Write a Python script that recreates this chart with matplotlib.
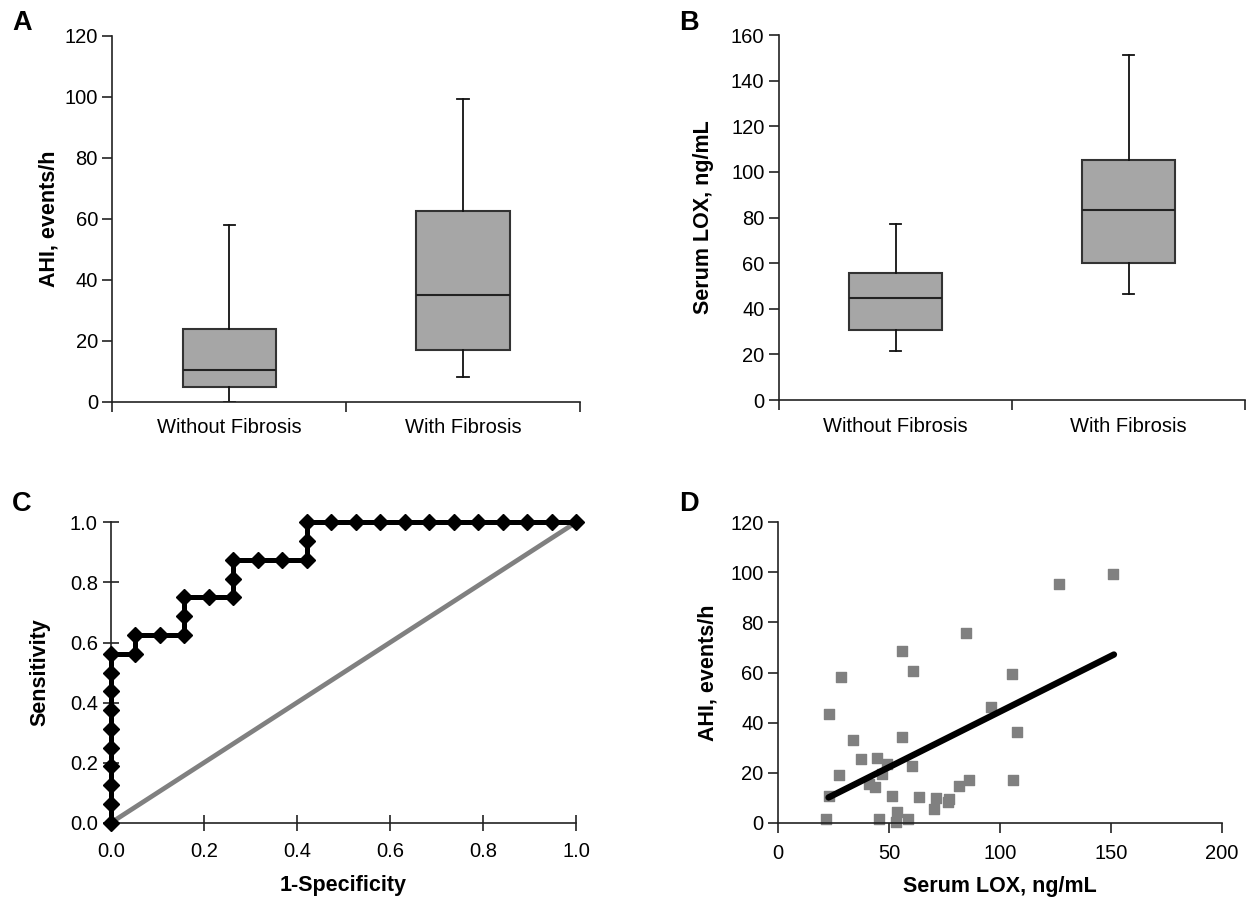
import numpy as np
import matplotlib
matplotlib.use("Agg")
import matplotlib.pyplot as plt

plt.rcParams['font.family'] = ['Liberation Sans', 'DejaVu Sans']

# box plot summaries: whislo, q1, median, q3, whishi
groups = ["Without Fibrosis", "With Fibrosis"]
ahi_stats = [[0.0, 4.7, 10.5, 23.8, 57.9],
             [8.1, 16.8, 34.9, 62.5, 99.1]]
lox_stats = [[21.5, 30.9, 44.8, 55.8, 77.2],
             [46.4, 59.9, 83.1, 105.4, 151.1]]

# ROC curve
roc_fpr = [0.0, 0.0, 0.0, 0.0, 0.0, 0.0, 0.0, 0.0, 0.0, 0.0,
           0.0526, 0.0526, 0.1053, 0.1579, 0.1579, 0.1579, 0.2105, 0.2632, 0.2632, 0.2632,
           0.3158, 0.3684, 0.4211, 0.4211, 0.4211, 0.4737, 0.5263, 0.5789, 0.6316, 0.6842,
           0.7368, 0.7895, 0.8421, 0.8947, 0.9474, 1.0]
roc_tpr = [0.0, 0.0625, 0.125, 0.1875, 0.25, 0.3125, 0.375, 0.4375, 0.5, 0.5625,
           0.5625, 0.625, 0.625, 0.625, 0.6875, 0.75, 0.75, 0.75, 0.8125, 0.875,
           0.875, 0.875, 0.875, 0.9375, 1.0, 1.0, 1.0, 1.0, 1.0, 1.0,
           1.0, 1.0, 1.0, 1.0, 1.0, 1.0]

# scatter: serum LOX vs AHI
lox = [150.9, 126.7, 84.7, 55.6, 61.0, 105.3, 28.2, 95.8, 22.7, 107.8,
       55.6, 33.5, 37.4, 44.6, 49.1, 60.4, 27.2, 46.7, 40.8, 43.5,
       86.2, 105.9, 81.4, 51.1, 63.4, 71.3, 77.0, 76.6, 70.3, 22.7,
       53.5, 21.5, 45.6, 58.3, 52.9]
ahi = [99.3, 95.2, 75.9, 68.8, 60.7, 59.5, 58.2, 46.2, 43.3, 36.1,
       34.4, 33.0, 25.4, 25.8, 23.3, 22.8, 19.0, 19.4, 15.3, 14.2,
       16.9, 17.0, 14.8, 10.8, 10.1, 9.9, 9.6, 8.4, 5.6, 10.7,
       4.4, 1.3, 1.6, 1.6, 0.1]
fit_x = [22.7, 151.4]
fit_y = [10.1, 67.2]

fig = plt.figure(figsize=(12.47, 9.05), dpi=100)
axA = fig.add_axes([0.0902, 0.5561, 0.3749, 0.4046])
axB = fig.add_axes([0.6247, 0.5580, 0.3737, 0.4033])
axC = fig.add_axes([0.0890, 0.0909, 0.3729, 0.3319])
axD = fig.add_axes([0.6241, 0.0909, 0.3556, 0.3319])

tick_fs = 14.5
label_fs = 15.5


def style(ax):
    ax.spines['top'].set_visible(False)
    ax.spines['right'].set_visible(False)
    for s in ['left', 'bottom']:
        ax.spines[s].set_linewidth(1.2)
        ax.spines[s].set_color('#222222')
    ax.tick_params(labelsize=tick_fs, width=1.2, length=7, color='#222222')


def box_panel(ax, stats, ymax, ystep, ylabel, label_x):
    bxp_stats = []
    for name, st in zip(groups, stats):
        bxp_stats.append(dict(label=name, whislo=st[0], q1=st[1], med=st[2],
                              q3=st[3], whishi=st[4], fliers=[]))
    ax.bxp(bxp_stats, positions=[0.5, 1.5], widths=0.4, capwidths=0.05,
           patch_artist=True, showfliers=False,
           boxprops=dict(facecolor='#a6a6a6', edgecolor='#333333', linewidth=1.5),
           medianprops=dict(color='#222222', linewidth=1.5),
           whiskerprops=dict(color='#111111', linewidth=1.3),
           capprops=dict(color='#111111', linewidth=1.3))
    style(ax)
    ax.set_xlim(0, 2)
    ax.set_ylim(0, ymax)
    ax.set_yticks(np.arange(0, ymax + 1, ystep))
    ax.set_xticks([0, 1, 2])
    ax.set_xticklabels([])
    ax.set_xticks([0.5, 1.5], minor=True)
    ax.set_xticklabels(groups, minor=True)
    ax.tick_params(axis='x', which='minor', length=0, labelsize=tick_fs, pad=12)
    ax.set_ylabel(ylabel, fontsize=label_fs, fontweight='bold')
    ax.yaxis.set_label_coords(label_x, 0.5)


box_panel(axA, ahi_stats, 120, 20, "AHI, events/h", -0.114)
box_panel(axB, lox_stats, 160, 20, "Serum LOX, ng/mL", -0.139)

# ROC panel
axC.plot([0, 1], [0, 1], color='#808080', linewidth=3.4, zorder=2, clip_on=False)
axC.plot(roc_fpr, roc_tpr, color='black', linewidth=3.6, marker='D', markersize=8.5,
         zorder=3, clip_on=False)
style(axC)
axC.set_xlim(0, 1)
axC.set_ylim(0, 1)
axC.set_xticks(np.arange(0, 1.01, 0.2))
axC.set_yticks(np.arange(0, 1.01, 0.2))
axC.xaxis.set_major_formatter(matplotlib.ticker.FormatStrFormatter('%.1f'))
axC.yaxis.set_major_formatter(matplotlib.ticker.FormatStrFormatter('%.1f'))
axC.tick_params(direction='inout', length=12)
axC.tick_params(axis='x', pad=8)
axC.set_xlabel("1-Specificity", fontsize=label_fs, fontweight='bold', labelpad=10)
axC.set_ylabel("Sensitivity", fontsize=label_fs, fontweight='bold')
axC.yaxis.set_label_coords(-0.131, 0.5)

# scatter panel
axD.scatter(lox, ahi, marker='s', s=62, color='#808080', zorder=2, clip_on=False)
axD.plot(fit_x, fit_y, color='black', linewidth=4.6, solid_capstyle='round', zorder=3)
style(axD)
axD.set_xlim(0, 200)
axD.set_ylim(0, 120)
axD.set_xticks(np.arange(0, 201, 50))
axD.set_yticks(np.arange(0, 121, 20))
axD.tick_params(axis='x', pad=8)
axD.set_xlabel("Serum LOX, ng/mL", fontsize=label_fs, fontweight='bold', labelpad=10)
axD.set_ylabel("AHI, events/h", fontsize=label_fs, fontweight='bold')
axD.yaxis.set_label_coords(-0.135, 0.5)

for letter, (x, y) in zip("ABCD", [(12, 10), (679, 10), (12, 491), (679, 491)]):
    fig.text(x / 1247, 1 - y / 905, letter, fontsize=19.5, fontweight='bold',
             va='top', ha='left')

fig.savefig("out.png", dpi=100)
